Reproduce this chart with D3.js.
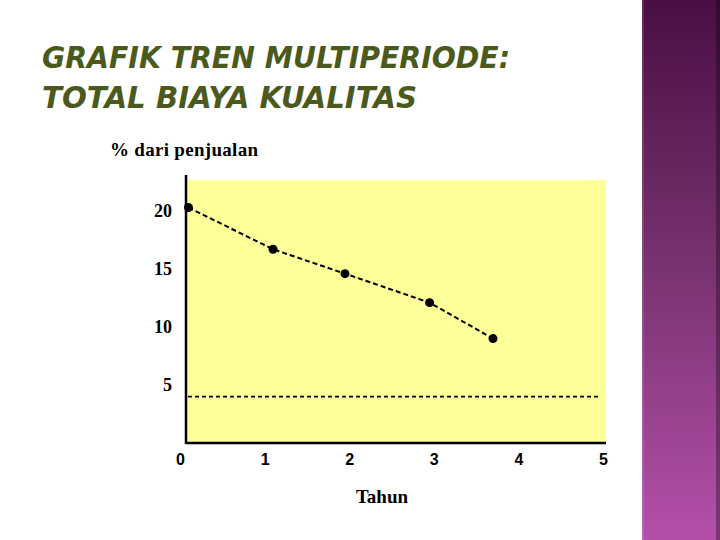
<!DOCTYPE html>
<html>
<head>
<meta charset="utf-8">
<script src="https://cdn.jsdelivr.net/npm/d3@7"></script>
<style>
  html, body { margin: 0; padding: 0; background: #fff; }
  svg { display: block; }
</style>
</head>
<body>
<svg id="chart" width="720" height="540"></svg>
<script>
// values
const titleLines = ['GRAFIK TREN MULTIPERIODE:', 'TOTAL BIAYA KUALITAS']
const yLabel = '% dari penjualan'
const xLabel = 'Tahun'
const years = [0.1, 1.1, 1.95, 2.95, 3.7]
const costPct = [20.3, 16.7, 14.6, 12.1, 9.0]
const baselinePct = 4
const xTicks = [0, 1, 2, 3, 4, 5]
const yTicks = [5, 10, 15, 20]

const svg = d3.select('#chart')

// purple side panel
const defs = svg.append('defs')
const grad = defs.append('linearGradient')
  .attr('id', 'side')
  .attr('x1', 0).attr('y1', 0).attr('x2', 0).attr('y2', 1)
grad.append('stop').attr('offset', '0%').attr('stop-color', '#4a0e44')
grad.append('stop').attr('offset', '45%').attr('stop-color', '#74306c')
grad.append('stop').attr('offset', '100%').attr('stop-color', '#b44fa9')

svg.append('rect')
  .attr('x', 642).attr('y', 0).attr('width', 78).attr('height', 540)
  .attr('fill', 'url(#side)')
svg.append('rect')
  .attr('x', 642).attr('y', 0).attr('width', 2).attr('height', 540)
  .attr('fill', '#ffffff').attr('opacity', 0.12)
svg.append('rect')
  .attr('x', 716).attr('y', 0).attr('width', 4).attr('height', 540)
  .attr('fill', '#000').attr('opacity', 0.3)

// title
svg.append('g')
  .selectAll('text')
  .data(titleLines)
  .enter()
  .append('text')
  .attr('x', 42)
  .attr('y', (d, i) => 68 + i * 40)
  .attr('font-family', 'DejaVu Sans')
  .attr('font-weight', 'bold')
  .attr('font-style', 'italic')
  .attr('font-size', 31)
  .attr('fill', '#4b5a1c')
  .attr('textLength', (d, i) => i === 0 ? 468 : 375)
  .attr('lengthAdjust', 'spacingAndGlyphs')
  .text(d => d)

// scales
const x = d3.scaleLinear().domain([0, 5]).range([180, 603])
const y = d3.scaleLinear().domain([0, 20]).range([443, 211])

// plot frame
const plotLeft = 186, plotRight = 606, plotTop = 180
svg.append('rect')
  .attr('x', plotLeft).attr('y', plotTop)
  .attr('width', plotRight - plotLeft).attr('height', y(0) - plotTop)
  .attr('fill', '#ffff99')

svg.append('line')
  .attr('x1', plotLeft).attr('x2', plotLeft)
  .attr('y1', 175).attr('y2', y(0) + 1)
  .attr('stroke', '#000').attr('stroke-width', 2.5)
svg.append('line')
  .attr('x1', plotLeft).attr('x2', plotRight)
  .attr('y1', y(0)).attr('y2', y(0))
  .attr('stroke', '#000').attr('stroke-width', 2.5)

// y axis labels (no ticks)
const yAxis = d3.axisLeft(y).tickValues(yTicks).tickSize(0).tickPadding(0).tickFormat(d3.format('d'))
const gy = svg.append('g')
  .attr('transform', `translate(172,0)`)
  .call(yAxis)
gy.select('.domain').remove()
gy.selectAll('text')
  .attr('font-family', 'Liberation Serif')
  .attr('font-weight', 'bold')
  .attr('font-size', 18)
  .attr('fill', '#000')

// x axis labels
const xAxis = d3.axisBottom(x).tickValues(xTicks).tickSize(0).tickPadding(0).tickFormat(d3.format('d'))
const gx = svg.append('g')
  .attr('transform', `translate(0,454)`)
  .call(xAxis)
gx.select('.domain').remove()
gx.selectAll('text')
  .attr('font-family', 'Liberation Sans')
  .attr('font-weight', 'bold')
  .attr('font-size', 16)
  .attr('fill', '#000')

// axis titles
svg.append('text')
  .attr('x', 110).attr('y', 156)
  .attr('font-family', 'Liberation Serif')
  .attr('font-weight', 'bold')
  .attr('font-size', 19)
  .attr('textLength', 148)
  .attr('lengthAdjust', 'spacing')
  .text(yLabel)

svg.append('text')
  .attr('x', 382).attr('y', 503)
  .attr('text-anchor', 'middle')
  .attr('font-family', 'Liberation Serif')
  .attr('font-weight', 'bold')
  .attr('font-size', 19)
  .text(xLabel)

// baseline dashed line
svg.append('line')
  .attr('x1', plotLeft + 2).attr('x2', plotRight - 6)
  .attr('y1', y(baselinePct)).attr('y2', y(baselinePct))
  .attr('stroke', '#000').attr('stroke-width', 1.6)
  .attr('stroke-dasharray', '4,3')

// trend line
const points = years.map((yr, i) => ({ yr, pct: costPct[i] }))
const line = d3.line()
  .x(d => x(d.yr))
  .y(d => y(d.pct))

svg.append('path')
  .datum(points)
  .attr('fill', 'none')
  .attr('stroke', '#000')
  .attr('stroke-width', 2)
  .attr('stroke-dasharray', '5,3')
  .attr('d', line)

svg.append('g')
  .selectAll('circle')
  .data(points)
  .enter()
  .append('circle')
  .attr('r', 4.5)
  .attr('fill', '#000')
  .attr('cx', d => x(d.yr))
  .attr('cy', d => y(d.pct))
</script>
</body>
</html>
